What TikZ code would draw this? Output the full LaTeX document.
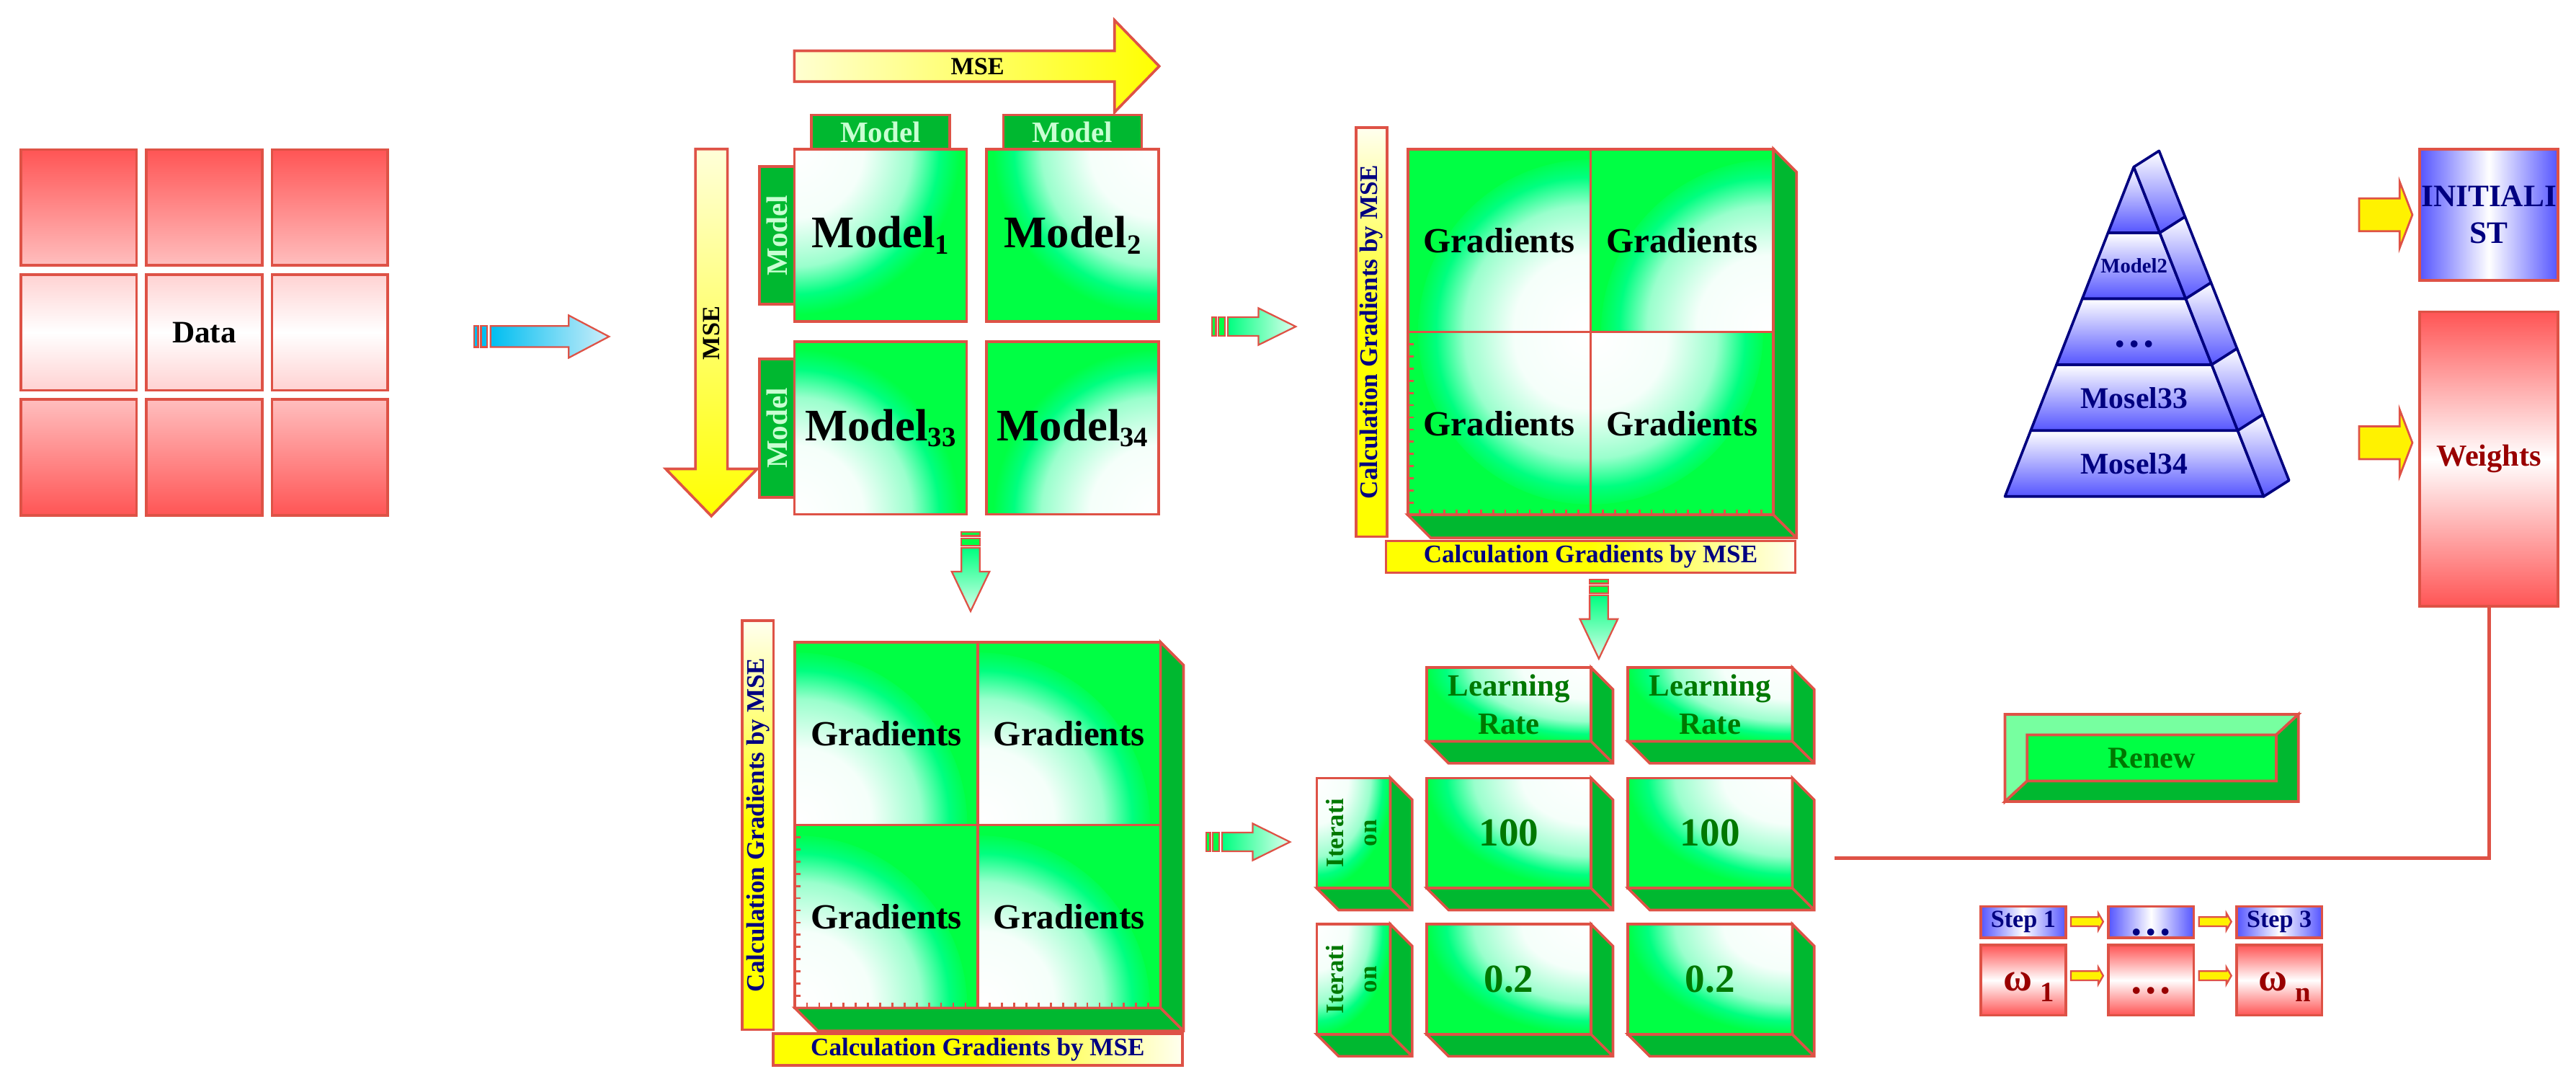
\documentclass[tikz,border=0pt]{standalone}
\usepackage{fontspec}
\setmainfont{Liberation Serif}
\usetikzlibrary{positioning}
\usetikzlibrary{calc}

\definecolor{edgered}{RGB}{222,82,70}
\definecolor{leafgreen}{RGB}{0,255,68}
\definecolor{mintgreen}{RGB}{0,255,128}
\definecolor{sidegreen}{RGB}{0,184,48}
\definecolor{lightgreen}{RGB}{119,255,160}
\definecolor{textgreen}{RGB}{0,120,0}
\definecolor{tabtext}{RGB}{200,255,210}
\definecolor{navy}{RGB}{0,0,128}
\definecolor{paleblue}{RGB}{85,85,255}
\definecolor{datared}{RGB}{255,85,85}
\definecolor{datapink}{RGB}{255,190,190}
\definecolor{datablush}{RGB}{255,210,210}
\definecolor{wine}{RGB}{153,0,0}
\definecolor{skyblue}{RGB}{0,190,240}
\definecolor{iceblue}{RGB}{205,238,250}

\pgfdeclareradialshading{glow}{\pgfpoint{0bp}{0bp}}{color(0bp)=(white); color(10bp)=(white!96!mintgreen); color(17bp)=(mintgreen!40); color(21bp)=(mintgreen); color(24bp)=(leafgreen); color(50bp)=(leafgreen)}

\newcommand\lowidx[2][4pt]{\raisebox{-#1}{\fontsize{17}{17}\selectfont #2}}

\begin{document}
\begin{tikzpicture}[x=1pt,y=-1pt,
    every node/.style={outer sep=0pt,font=\bfseries},
    redbox/.style={draw=edgered,line width=1.6pt,inner sep=0pt},
    datacell/.style={redbox,minimum width=70.5pt,minimum height=70.5pt},
    datatop/.style={datacell,top color=datared,bottom color=datapink},
    datamid/.style={datacell,top color=datablush,bottom color=datablush,middle color=white},
    databot/.style={datacell,top color=datapink,bottom color=datared},
    glow/.style 2 args={fill=leafgreen,path picture={\shade[shading=glow] (path picture bounding box.#1) ellipse (#2);}},
    modelbox/.style={redbox,minimum width=104.9pt,minimum height=105pt,font=\bfseries\fontsize{27.5}{30}\selectfont},
    modeltab/.style={redbox,fill=sidegreen,text=tabtext,font=\bfseries\fontsize{18}{20}\selectfont},
    gradquad/.style={redbox,minimum width=111.3pt,minimum height=111.3pt,font=\bfseries\fontsize{21.5}{24}\selectfont},
    vbar/.style={redbox,minimum width=19pt,minimum height=249pt,top color=yellow!6,bottom color=yellow,middle color=yellow,text=navy,font=\bfseries\fontsize{15.4}{16}\selectfont},
    hbar/.style={redbox,minimum width=249pt,minimum height=19.3pt,left color=yellow,right color=yellow!6,middle color=yellow,text=navy,font=\bfseries\fontsize{15.4}{16}\selectfont},
    tickmark/.style={edgered,line width=1.2pt},
    sideface/.style={fill=sidegreen,draw=edgered,line width=1.6pt},
    lrbox/.style={redbox,minimum width=100.1pt,minimum height=44.9pt,align=center,text=textgreen,font=\bfseries\fontsize{18.8}{23.2}\selectfont},
    valbox/.style={redbox,minimum width=100.1pt,minimum height=67pt,text=textgreen,font=\bfseries\fontsize{24.2}{26}\selectfont},
    iterbox/.style={redbox,minimum width=44.8pt,minimum height=67pt,text=textgreen,font=\bfseries\fontsize{15.3}{20.2}\selectfont},
    pyrband/.style={top color=white,bottom color=paleblue,draw=navy,line width=1.6pt,line join=round},
    stepbox/.style={redbox,minimum width=51.9pt,minimum height=19pt,left color=paleblue,right color=paleblue,middle color=white,text=navy,font=\bfseries\fontsize{15}{16}\selectfont},
    omegabox/.style={redbox,minimum width=51.9pt,minimum height=42.6pt,top color=datared,bottom color=datared,middle color=white},
    greenstripe/.style={fill=leafgreen,draw=edgered,line width=1pt},
    greenright/.style={left color=mintgreen,right color=mintgreen!12,draw=edgered,line width=1pt},
    greendown/.style={top color=mintgreen,bottom color=mintgreen!15,draw=edgered,line width=1pt},
    yarrow/.style={fill=yellow,draw=edgered,line width=1.2pt}]
\useasboundingbox (0,0) rectangle (1568,661);

% data
\node[datatop,anchor=north west] (d11) at (12.6,91) {};
\node[datatop,right=6pt of d11] (d12) {};
\node[datatop,right=6pt of d12] (d13) {};
\node[datamid,below=5.5pt of d11] (d21) {};
\node[datamid,right=6pt of d21,font=\bfseries\fontsize{19}{20}\selectfont] (d22) {Data};
\node[datamid,right=6pt of d22] (d23) {};
\node[databot,below=5.5pt of d21] (d31) {};
\node[databot,right=6pt of d31] (d32) {};
\node[databot,right=6pt of d32] (d33) {};

\filldraw[fill=skyblue,draw=edgered,line width=1pt] (288.6,198.4) rectangle ++(2.4,12.8) (292.8,198.4) rectangle ++(3.8,12.8);
\shade[left color=skyblue,right color=iceblue,draw=edgered,line width=1pt] (298.6,198.4) -- ++(47.6,0) -- ++(0,-6.5) -- ++(24.5,12.9) -- ++(-24.5,12.9) -- ++(0,-6.5) -- ++(-47.6,0) -- cycle;

% models
\shade[draw=edgered,line width=1.6pt,left color=yellow!18,right color=yellow] (483.5,30.9) -- (678.4,30.9) -- (678.4,12.3) -- (705.6,40.3) -- (678.4,68.3) -- (678.4,49.7) -- (483.5,49.7) -- cycle;
\shade[draw=edgered,line width=1.6pt,top color=yellow!15,bottom color=yellow] (423.3,90.7) -- (423.3,285.3) -- (405.2,285.3) -- (433,314) -- (460.9,285.3) -- (442.8,285.3) -- (442.8,90.7) -- cycle;
\node[font=\bfseries\fontsize{15}{16}\selectfont] (mseh) at (595,40.3) {MSE};
\node[font=\bfseries\fontsize{15}{16}\selectfont,rotate=90] (msev) at (433,202.7) {MSE};

\node[modelbox,glow={north west}{105pt and 105pt},anchor=north west] (m1) at (483.5,90.7) {Model\lowidx{1}};
\node[modelbox,glow={north east}{105pt and 105pt},right=12pt of m1] (m2) {Model\lowidx{2}};
\node[modelbox,glow={south west}{105pt and 105pt},below=12.3pt of m1] (m33) {Model\lowidx[3.8pt]{33}};
\node[modelbox,glow={south east}{105pt and 105pt},right=12pt of m33] (m34) {Model\lowidx[3.8pt]{34}};
\node[modeltab,minimum width=84.3pt,minimum height=20.8pt,above=0pt of m1] (t1) {Model};
\node[modeltab,minimum width=84.3pt,minimum height=20.8pt,above=0pt of m2] (t2) {Model};
\node[modeltab,minimum width=21.2pt,minimum height=84pt,left=0pt of m1] (t3) {\rotatebox{90}{Model}};
\node[modeltab,minimum width=21.2pt,minimum height=84pt,left=0pt of m33] (t4) {\rotatebox{90}{Model}};

% green arrows
\foreach \x/\y in {737.7/198.7,734.2/512.3} {
  \filldraw[greenstripe] (\x,{\y-5.7}) rectangle ++(2.4,11.4) ({\x+4.1},{\y-5.7}) rectangle ++(3.7,11.4);
  \shade[greenright] ({\x+9.7},{\y-5.7}) -- ++(18.6,0) -- ++(0,-5.5) -- ++(22.7,11.2) -- ++(-22.7,11.2) -- ++(0,-5.5) -- ++(-18.6,0) -- cycle;
}
\foreach \x/\y in {590.8/323.7,973.2/352.6} {
  \filldraw[greenstripe] ({\x-5.6},\y) rectangle ++(11.2,2.4) ({\x-5.6},{\y+3.9}) rectangle ++(11.2,4.4);
  \shade[greendown] ({\x-5.6},{\y+9.6}) -- ++(0,14.5) -- ++(-5.9,0) -- ++(11.5,24.1) -- ++(11.5,-24.1) -- ++(-5.9,0) -- ++(0,-14.5) -- cycle;
}

% gradients, top
\node[gradquad,glow={south east}{105pt and 105pt},anchor=north west] (q11) at (856.9,90.7) {Gradients};
\node[gradquad,glow={south east}{105pt and 105pt},right=0pt of q11] (q12) {Gradients};
\node[gradquad,glow={north east}{105pt and 105pt},below=0pt of q11] (q21) {Gradients};
\node[gradquad,glow={north west}{105pt and 105pt},right=0pt of q21] (q22) {Gradients};
\draw[sideface] (q12.north east) -- ++(14,14) -- ([shift={(14,14)}]q22.south east) -- ([shift={(14,14)}]q21.south west) -- (q21.south west) -- (q22.south east) -- cycle (q22.south east) -- ++(14,14);
\node[vbar,left=12.6pt of q11.south west] (qv) {\rotatebox{90}{Calculation Gradients by MSE}};
\node[hbar,below=15.9pt of q21.south east] (qh) {Calculation Gradients by MSE};

% gradients, bottom
\node[gradquad,glow={south west}{105pt and 105pt},anchor=north west] (b11) at (483.8,390.7) {Gradients};
\node[gradquad,glow={south west}{105pt and 105pt},right=0pt of b11] (b12) {Gradients};
\node[gradquad,glow={south west}{105pt and 105pt},below=0pt of b11] (b21) {Gradients};
\node[gradquad,glow={south west}{105pt and 105pt},right=0pt of b21] (b22) {Gradients};
\draw[sideface] (b12.north east) -- ++(14,14) -- ([shift={(14,14)}]b22.south east) -- ([shift={(14,14)}]b21.south west) -- (b21.south west) -- (b22.south east) -- cycle (b22.south east) -- ++(14,14);
\node[vbar,left=13pt of b11.south west] (bv) {\rotatebox{90}{Calculation Gradients by MSE}};
\node[hbar,below=15.7pt of b21.south east] (bh) {Calculation Gradients by MSE};

\foreach \i in {1,...,29} {
  \draw[tickmark] ([shift={(\i*7.42,0)}]q21.south west) -- ++(0,-3.4);
  \draw[tickmark] ([shift={(\i*7.42,0)}]b21.south west) -- ++(0,-3.4);
}
\foreach \i in {1,...,14} {
  \draw[tickmark] ([shift={(0,\i*7.42)}]q21.north west) -- ++(3.6,0);
  \draw[tickmark] ([shift={(0,\i*7.42)}]b21.north west) -- ++(3.6,0);
}

% learning rate
\node[lrbox,glow={north east}{105pt and 48pt},anchor=north west] (lr1) at (868.4,406.2) {Learning\\Rate};
\node[lrbox,glow={north east}{105pt and 48pt},right=22.4pt of lr1] (lr2) {Learning\\Rate};
\node[valbox,glow={north east}{105pt and 70pt},below=22.3pt of lr1] (v11) {100};
\node[valbox,glow={north east}{105pt and 70pt},right=22.4pt of v11] (v12) {100};
\node[valbox,glow={north east}{105pt and 70pt},below=22pt of v11] (v21) {0.2};
\node[valbox,glow={north east}{105pt and 70pt},right=22.4pt of v21] (v22) {0.2};
\node[iterbox,glow={north west}{48pt and 70pt},left=22.1pt of v11] (it1) {\rotatebox{90}{\begin{tabular}{@{}c@{}}Iterati\\on\end{tabular}}};
\node[iterbox,glow={north west}{48pt and 70pt},left=22.1pt of v21] (it2) {\rotatebox{90}{\begin{tabular}{@{}c@{}}Iterati\\on\end{tabular}}};
\foreach \n in {lr1,lr2,v11,v12,v21,v22,it1,it2}
  \draw[sideface] (\n.north east) -- ([shift={(13.3,13.3)}]\n.north east) -- ([shift={(13.3,13.3)}]\n.south east) -- ([shift={(13.3,13.3)}]\n.south west) -- (\n.south west) -- (\n.south east) -- cycle (\n.south east) -- ([shift={(13.3,13.3)}]\n.south east);

% pyramid
\coordinate (pa) at (1298.8,101.6);
\coordinate (pl) at (1220.4,302.1);
\coordinate (pr) at (1377.9,302.1);
\coordinate (pab) at (1314.2,91.8);
\coordinate (prb) at (1393.3,292.3);
\foreach \a/\b in {0/0.2,0.2/0.4,0.4/0.6,0.6/0.8,0.8/1} {
  \shade[pyrband] ($(pa)!\a!(pl)$) -- ($(pa)!\b!(pl)$) -- ($(pa)!\b!(pr)$) -- ($(pa)!\a!(pr)$) -- cycle;
  \shade[pyrband] ($(pa)!\a!(pr)$) -- ($(pa)!\b!(pr)$) -- ($(pab)!\b!(prb)$) -- ($(pab)!\a!(prb)$) -- cycle;
}
\node[text=navy,font=\bfseries\fontsize{12.6}{13}\selectfont] (py2) at (1299,161.7) {Model2};
\node[text=navy,font=\bfseries\fontsize{26}{26}\selectfont] (py3) at (1299,209.3) {…};
\node[text=navy,font=\bfseries\fontsize{18.3}{19}\selectfont] (py4) at (1299,242) {Mosel33};
\node[text=navy,font=\bfseries\fontsize{18.3}{19}\selectfont] (py5) at (1299,282) {Mosel34};

% weights
\node[redbox,minimum width=84.1pt,minimum height=79.7pt,left color=paleblue,right color=paleblue,middle color=white,align=center,text=navy,font=\bfseries\fontsize{19}{22.5}\selectfont,anchor=north west] (init) at (1472.9,90.9) {INITIALI\\ST};
\node[redbox,minimum width=84.1pt,minimum height=179.2pt,top color=datared,bottom color=datared,middle color=white,text=wine,font=\bfseries\fontsize{18.6}{20}\selectfont,below=19.1pt of init] (weights) {Weights};
\foreach \y in {130.7,269.4}
  \draw[yarrow] (1436,{\y-10}) -- ++(24.6,0) -- ++(0,-10.3) -- ++(7.8,20.3) -- ++(-7.8,20.3) -- ++(0,-10.3) -- ++(-24.6,0) -- cycle;
\coordinate (feedend) at (1116.7,522);
\draw[edgered,line width=2.2pt] (weights.south) |- (feedend);

% renew
\node[redbox,fill=leafgreen,minimum width=151.6pt,minimum height=28.1pt,text=textgreen,font=\bfseries\fontsize{18.5}{20}\selectfont] (renew) at (1309.7,461.2) {Renew};
\filldraw[fill=lightgreen,draw=edgered,line width=1.6pt] ([shift={(-13.5,-12.5)}]renew.north west) -- ([shift={(13.5,-12.5)}]renew.north east) -- (renew.north east) -- (renew.north west) -- (renew.south west) -- ([shift={(-13.5,12.5)}]renew.south west) -- cycle;
\filldraw[fill=sidegreen,draw=edgered,line width=1.6pt] ([shift={(13.5,-12.5)}]renew.north east) -- ([shift={(13.5,12.5)}]renew.south east) -- ([shift={(-13.5,12.5)}]renew.south west) -- (renew.south west) -- (renew.south east) -- (renew.north east) -- cycle;

% steps
\node[stepbox,anchor=north west] (s1) at (1205.6,551.6) {Step 1};
\node[stepbox,right=25.9pt of s1] (s2) {};
\node[stepbox,right=26.1pt of s2] (s3) {Step 3};
\node[omegabox,below=4.5pt of s1] (w1) {};
\node[omegabox,below=4.5pt of s2] (w2) {};
\node[omegabox,below=4.5pt of s3] (w3) {};
\node[text=navy,font=\bfseries\fontsize{26}{26}\selectfont] (s2t) at ([shift={(0,6.4)}]s2.center) {…};
\node[text=wine,font=\bfseries\fontsize{26}{26}\selectfont] (w2t) at ([shift={(0,6.4)}]w2.center) {…};
\node[text=wine,font=\bfseries\fontsize{24}{24}\selectfont] (w1t) at ([shift={(3.3,4)}]w1.center) {ω\kern5pt\lowidx[6.7pt]{1}};
\node[text=wine,font=\bfseries\fontsize{24}{24}\selectfont] (w3t) at ([shift={(3.3,4)}]w3.center) {ω\kern5pt\lowidx[6.7pt]{n}};
\foreach \x in {1260.5,1338.5}
  \foreach \y in {560.8,593.7}
    \draw[yarrow,line width=1pt] (\x,{\y-2.8}) -- ++(16.7,0) -- ++(0,-2.4) -- ++(3,5.2) -- ++(-3,5.2) -- ++(0,-2.4) -- ++(-16.7,0) -- cycle;
\end{tikzpicture}
\end{document}
